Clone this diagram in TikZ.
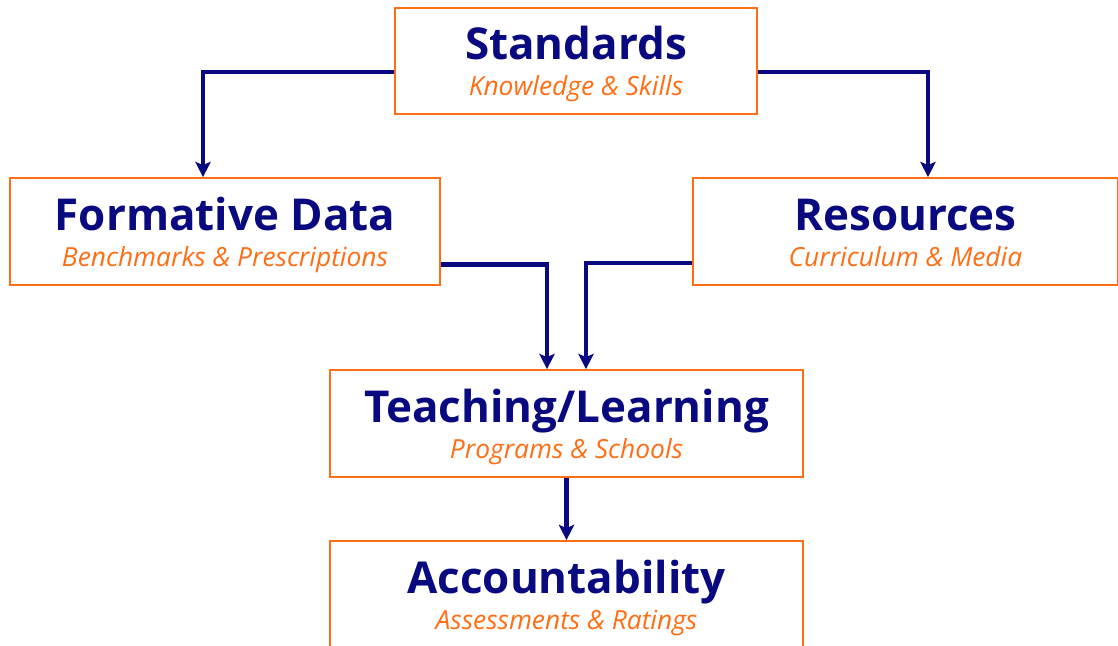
\documentclass[tikz,border=0pt]{standalone}
\usepackage{fontspec}
\setsansfont{Open Sans}
\usetikzlibrary{arrows.meta,positioning,calc}
\definecolor{FlowNavy}{HTML}{0A0A80}
\definecolor{FlowOrange}{HTML}{FF6E14}
\newcommand{\boxhead}[1]{{\fontsize{37.5}{30}\selectfont\bfseries\rule{0pt}{34pt}#1}}
\newcommand{\boxsub}[1]{{\fontsize{22.5}{30}\selectfont\itshape\color{FlowOrange}\vphantom{Kg}#1}}

\begin{document}
\begin{tikzpicture}[x=0.03cm,y=-0.03cm,font=\sffamily]
    \tikzset{stage/.style={draw=FlowOrange,line width=1.7pt,fill=white,
      minimum height=3.2cm,align=center,text=FlowNavy,inner sep=0pt,
      font=\sffamily\fontsize{22.5}{30.5}\selectfont},
      link/.style={draw=FlowNavy,line width=4.2pt,
      -{Stealth[length=0.46cm,width=0.46cm,inset=0.1cm]}}}
    \useasboundingbox (0,0) rectangle (1118,646);
    \node[stage,minimum width=10.86cm] (std) at (576,61)
      {\boxhead{Standards}\\\boxsub{Knowledge \& Skills}};
    \node[stage,minimum width=12.9cm] (form) at (225,231.5)
      {\boxhead{Formative Data}\\\boxsub{Benchmarks \& Prescriptions}};
    \node[stage,minimum width=12.75cm] (res) at (905.5,231.5)
      {\boxhead{Resources}\\\boxsub{Curriculum \& Media}};
    \node[stage,minimum width=14.19cm] (teach) at (566.5,423.5)
      {\boxhead{Teaching/Learning}\\\boxsub{Programs \& Schools}};
    \node[stage,minimum width=14.19cm] (acc) at (566.5,594.5)
      {\boxhead{Accountability}\\\boxsub{Assessments \& Ratings}};
    % feeds from the standards box
    \draw[link] ([yshift=-0.33cm]std.west) -| ([xshift=-0.66cm]form.north);
    \draw[link] ([yshift=-0.33cm]std.east) -| ([xshift=0.675cm]res.north);
    % both middle boxes into teaching
    \draw[link] ([yshift=-1cm]form.east) -| ([xshift=-0.585cm]teach.north);
    \draw[link] ([yshift=-0.945cm]res.west) -| ([xshift=0.585cm]teach.north);
    \draw[link] (teach.south) -- (acc.north);
  \end{tikzpicture}
\end{document}
